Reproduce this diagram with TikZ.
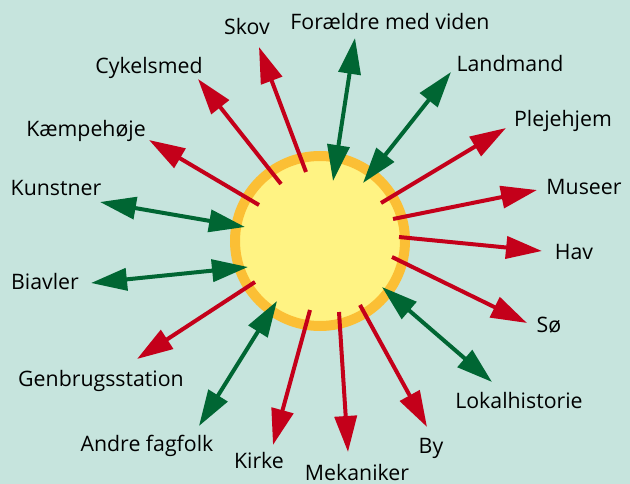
\documentclass[tikz,border=0pt]{standalone}
\usepackage{fontspec}
\setmainfont{Open Sans}
\usetikzlibrary{arrows.meta}
\definecolor{bgc}{HTML}{C6E4DD}
\definecolor{redc}{HTML}{C4001A}
\definecolor{greenc}{HTML}{006633}
\definecolor{yellowc}{HTML}{FFF383}
\definecolor{orangec}{HTML}{FBBF35}
\tikzset{
  lbl/.style={anchor=base, inner sep=0pt, font=\fontsize{21.3}{25}\selectfont, text=black},
  outarrow/.style={draw=redc, line width=4pt, -{Triangle[length=36pt,width=22pt]}},
  twoarrow/.style={draw=greenc, line width=4pt, {Triangle[length=36pt,width=22pt]}-{Triangle[length=36pt,width=22pt]}},
  hubstyle/.style={circle, draw=orangec, fill=yellowc, line width=10pt, minimum size=170pt, inner sep=0pt}
}
\begin{document}
\begin{tikzpicture}[x=1pt,y=-1pt]
\fill[bgc] (0,0) rectangle (630,484);
\useasboundingbox (0,0) rectangle (630,484);
\node[hubstyle] (hub) at (320,241) {};
% labels
\node[lbl] (skov) at (247,35) {Skov};
\node[lbl] (foraeldre) at (390,30) {Forældre med viden};
\node[lbl] (landmand) at (510,72) {Landmand};
\node[lbl] (cykelsmed) at (149,74) {Cykelsmed};
\node[lbl] (plejehjem) at (563,127) {Plejehjem};
\node[lbl] (kaempehoeje) at (86,137) {Kæmpehøje};
\node[lbl] (kunstner) at (56,196) {Kunstner};
\node[lbl] (museer) at (584,195) {Museer};
\node[lbl] (hav) at (574,260) {Hav};
\node[lbl] (biavler) at (45,290) {Biavler};
\node[lbl] (soe) at (549,332) {Sø};
\node[lbl] (genbrug) at (101,386) {Genbrugsstation};
\node[lbl] (lokal) at (519,408) {Lokalhistorie};
\node[lbl] (andre) at (147,451) {Andre fagfolk};
\node[lbl] (by) at (431,453) {By};
\node[lbl] (kirke) at (259,468) {Kirke};
\node[lbl] (mekaniker) at (357,480) {Mekaniker};
% red arrow endpoints
\coordinate (r1a) at (306,172); \coordinate (r1b) at (259,47);
\coordinate (r2a) at (281,184); \coordinate (r2b) at (198,79);
\coordinate (r3a) at (259,205); \coordinate (r3b) at (149,140);
\coordinate (r4a) at (381,203); \coordinate (r4b) at (506,128);
\coordinate (r5a) at (393,219); \coordinate (r5b) at (537,190);
\coordinate (r6a) at (399,237); \coordinate (r6b) at (542,251);
\coordinate (r7a) at (392,257); \coordinate (r7b) at (527,323);
\coordinate (r8a) at (360,305); \coordinate (r8b) at (427,427);
\coordinate (r9a) at (339,312); \coordinate (r9b) at (348,452);
\coordinate (r10a) at (310,310); \coordinate (r10b) at (273,445);
\coordinate (r11a) at (255,282); \coordinate (r11b) at (137,359);
% green arrow endpoints
\coordinate (g1a) at (333,181); \coordinate (g1b) at (355,38);
\coordinate (g2a) at (363,183); \coordinate (g2b) at (451,72);
\coordinate (g3a) at (245,227); \coordinate (g3b) at (100,202);
\coordinate (g4a) at (248,267); \coordinate (g4b) at (91,283);
\coordinate (g5a) at (277,301); \coordinate (g5b) at (199,426);
\coordinate (g6a) at (382,287); \coordinate (g6b) at (492,382);
\foreach \i in {1,...,11} { \draw[outarrow] (r\i a) -- (r\i b); }
\foreach \i in {1,...,6} { \draw[twoarrow] (g\i a) -- (g\i b); }
\end{tikzpicture}
\end{document}
